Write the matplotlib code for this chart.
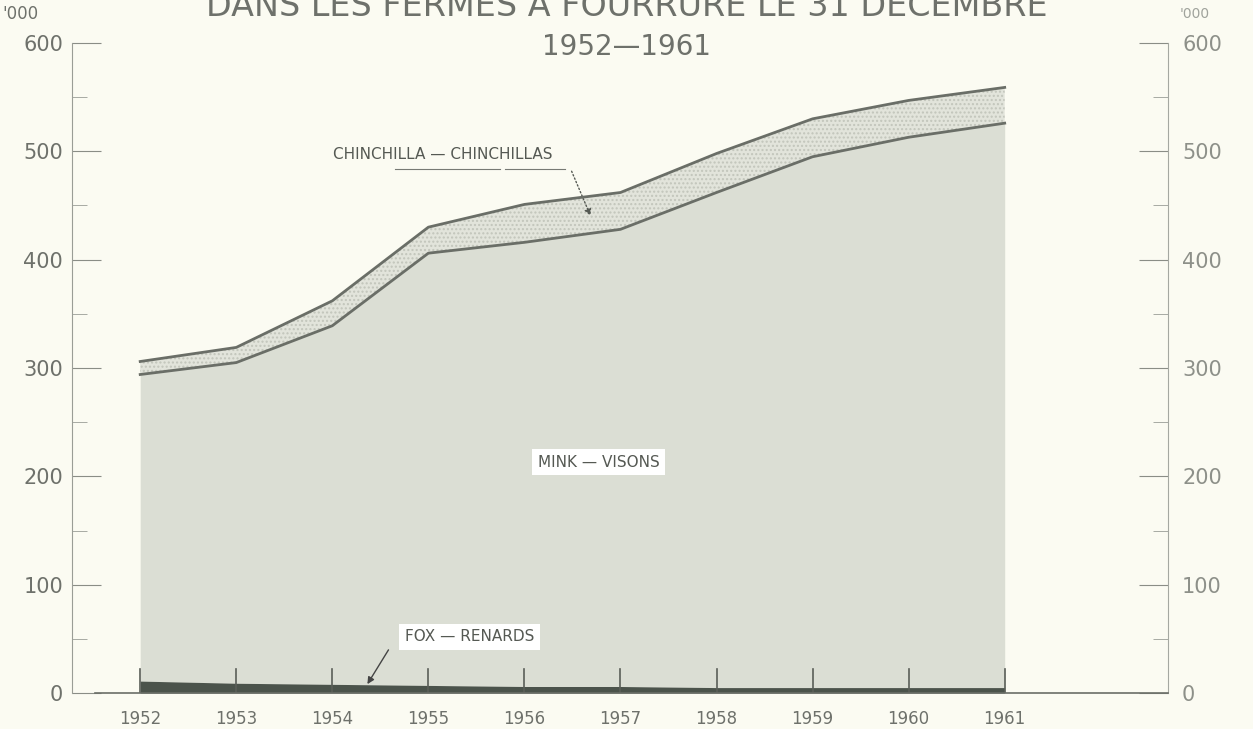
import numpy as np
import matplotlib.pyplot as plt

# DONNEES (milliers)
annees = [1952, 1953, 1954, 1955, 1956, 1957, 1958, 1959, 1960, 1961]
renards = [11, 9, 8, 7, 6, 6, 5, 5, 5, 5]
visons = [283, 296, 331, 399, 410, 422, 457, 490, 508, 521]
chinchillas = [12, 14, 23, 24, 35, 34, 36, 35, 34, 33]
yticks = [0, 100, 200, 300, 400, 500, 600]

fond = '#fbfbf2'
gris_txt = '#6e716b'
gris_ligne = '#6a6e67'

fig = plt.figure(figsize=(12.53, 7.29), dpi=100, facecolor=fond)
ax = fig.add_axes([72/1253, 1 - 693/729, (1168-72)/1253, (693-43)/729])
ax.set_facecolor(fond)

x = np.array(annees)
r = np.array(renards)
v = np.array(visons)
c = np.array(chinchillas)

ax.fill_between(x, 0, r, color='#4b534b', lw=0, zorder=3)
ax.fill_between(x, r, r + v, color='#dbded4', lw=0, zorder=2)
ax.fill_between(x, r + v, r + v + c, facecolor='#e2e4db', edgecolor='#c2c5bb',
                hatch='....', lw=0, zorder=2)
ax.plot(x, r + v, color=gris_ligne, lw=2, zorder=4)
ax.plot(x, r + v + c, color=gris_ligne, lw=2, zorder=4)

# traits verticaux des annees
for a in annees:
    ax.plot([a, a], [0, 22], color='#5a5e58', lw=1.2, zorder=5)

ax.set_xlim(1951.29, 1962.70)
ax.set_ylim(0, 600)
ax.plot([1951.53, 1962.70], [0, 0], color=gris_ligne, lw=1.2, zorder=5, clip_on=False)

ax.spines['top'].set_visible(False)
ax.spines['bottom'].set_visible(False)
ax.spines['left'].set_color('#9a9d96')
ax.spines['right'].set_color('#a5a8a1')

ax.set_xticks(annees)
ax.set_xticklabels([str(a) for a in annees], fontsize=12, color=gris_txt)
ax.tick_params(axis='x', length=0, pad=12)

ax.set_yticks(yticks)
ax.set_yticks(np.arange(50, 600, 100), minor=True)
ax.set_yticklabels([str(t) for t in yticks], fontsize=15, color=gris_txt)
ax.tick_params(axis='y', which='major', direction='in', length=21, color='#8a8d86',
               left=True, right=True, labelleft=True, labelright=True)
ax.tick_params(axis='y', which='minor', direction='in', length=11, color='#9a9d96',
               left=True, right=True)
for t in ax.yaxis.get_major_ticks():
    t.set_pad(6.5)
    t.label2.set_color('#8d9089')
for t in ax.yaxis.get_major_ticks():
    t.label2.set_x(1.0 + 14/1096)
    t.label2.set_transform(ax.get_yaxis_transform())

# titres
fig.text(0.5, 1 - 16/729, 'DANS LES FERMES À FOURRURE LE 31 DÉCEMBRE', ha='center', va='baseline',
         fontsize=24, color=gris_txt)
fig.text(0.5, 1 - 47/729, '1952—1961', ha='center', va='center', fontsize=20, color=gris_txt)
fig.text(2/1253, 1 - 14/729, "'000", ha='left', va='center', fontsize=12, color=gris_txt)
fig.text(1180/1253, 1 - 14/729, "'000", ha='left', va='center', fontsize=10, color='#a0a39c')

# annotations
ax.text(1955.15, 497, 'CHINCHILLA — CHINCHILLAS', fontsize=11, color='#555953',
        ha='center', va='center')
ax.plot([1954.65, 1955.75], [484, 484], color='#777a74', lw=0.8)
ax.plot([1955.80, 1956.42], [484, 484], color='#777a74', lw=0.8)
ax.annotate('', xy=(1956.70, 438), xytext=(1956.48, 484),
            arrowprops=dict(arrowstyle='-|>', color='#555953', ls=':', lw=1))
ax.text(1956.77, 213, 'MINK — VISONS', fontsize=11, color='#555953', ha='center', va='center',
        bbox=dict(facecolor='white', edgecolor='none', pad=4))
ax.text(1955.43, 52, 'FOX — RENARDS', fontsize=11, color='#555953', ha='center', va='center',
        bbox=dict(facecolor='white', edgecolor='none', pad=4))
ax.annotate('', xy=(1954.35, 6), xytext=(1954.6, 42),
            arrowprops=dict(arrowstyle='-|>', color='#444', lw=1))

fig.savefig('out.png', dpi=100, facecolor=fond)
